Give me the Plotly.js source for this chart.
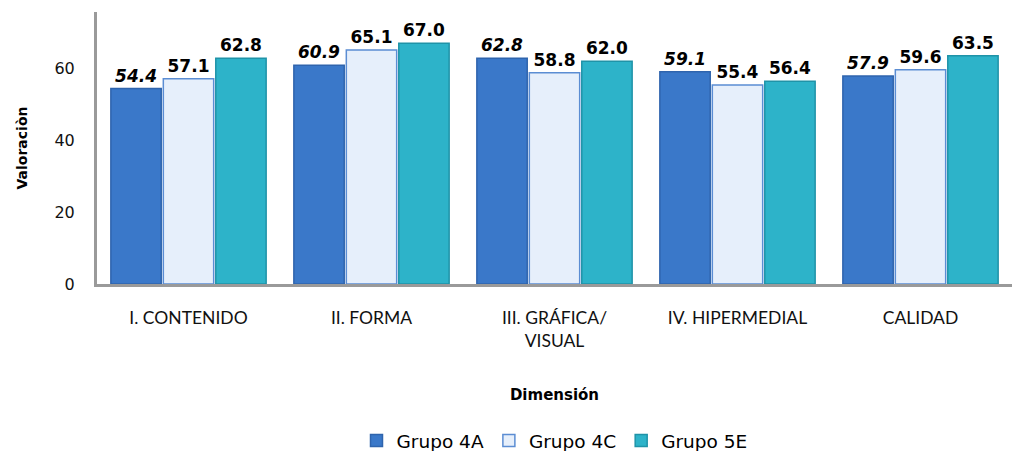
<!DOCTYPE html>
<html><head><meta charset="utf-8">
<script src="https://cdn.plot.ly/plotly-3.0.1.min.js"></script>
<style>html,body{margin:0;padding:0;background:#fff}#c{width:1017px;height:451px}</style>
</head><body><div id="c"></div>
<script>
const categories = ["I. CONTENIDO", "II. FORMA", "III. GRÁFICA/<br>VISUAL", "IV. HIPERMEDIAL", "CALIDAD"];
const grupo4A = [54.4, 60.9, 62.8, 59.1, 57.9];
const grupo4C = [57.1, 65.1, 58.8, 55.4, 59.6];
const grupo5E = [62.8, 67.0, 62.0, 56.4, 63.5];
const yTicks = [0, 20, 40, 60];

const labelFont = {family: "DejaVu Sans, Verdana, sans-serif", size: 17, color: "#000", weight: 700};
function bar(name, y, fill, line, italic) {
  return {
    type: "bar", name: name, x: categories, y: y,
    marker: {color: fill, line: {color: line, width: 1.5}},
    text: y.map(v => v.toFixed(1)),
    texttemplate: italic ? "<i>%{text}</i>" : "%{text}",
    textposition: "outside",
    textfont: Object.assign({}, labelFont, italic ? {style: "italic"} : {}),
    cliponaxis: false,
    hoverinfo: "x+y"
  };
}
const data = [
  bar("Grupo 4A", grupo4A, "#3a78c9", "#2f64ad", true),
  bar("Grupo 4C", grupo4C, "#e6effb", "#5b8dd3", false),
  bar("Grupo 5E", grupo5E, "#2db3c9", "#1f93a8", false)
];
const layout = {
  width: 1017, height: 451,
  margin: {l: 97, r: 5, t: 12, b: 167},
  paper_bgcolor: "#fff", plot_bgcolor: "#fff",
  barmode: "group", bargap: 0.14, bargroupgap: 0.04,
  showlegend: true,
  legend: {orientation: "h", xref: "paper", x: 0.5, xanchor: "center",
           yref: "container", y: 0.022, yanchor: "middle",
           font: {family: "DejaVu Sans, Verdana, sans-serif", size: 18.5, color: "#000"}, itemwidth: 30},
  xaxis: {
    automargin: false,
    showgrid: false, zeroline: false, showline: true, linecolor: "#9a9a9a", linewidth: 3,
    ticks: "", ticklabelstandoff: 16,
    tickfont: {family: "Lato, Liberation Sans, sans-serif", size: 17.5, color: "#111"},
    title: {text: "<b>Dimensión</b>", standoff: 40,
            font: {family: "DejaVu Sans, Verdana, sans-serif", size: 15, color: "#000"}}
  },
  yaxis: {
    automargin: false,
    range: [0, 75.7], tickvals: yTicks, ticktext: yTicks.map(String),
    showgrid: false, zeroline: false, showline: true, linecolor: "#9a9a9a", linewidth: 3,
    ticks: "", ticklabelstandoff: 16,
    tickfont: {family: "DejaVu Sans, Verdana, sans-serif", size: 16, color: "#111"},
    title: {text: "<b>Valoraciòn</b>", standoff: 24,
            font: {family: "DejaVu Sans, Verdana, sans-serif", size: 14, color: "#000"}}
  }
};
Plotly.newPlot("c", data, layout, {displayModeBar: false, staticPlot: true});
</script></body></html>
